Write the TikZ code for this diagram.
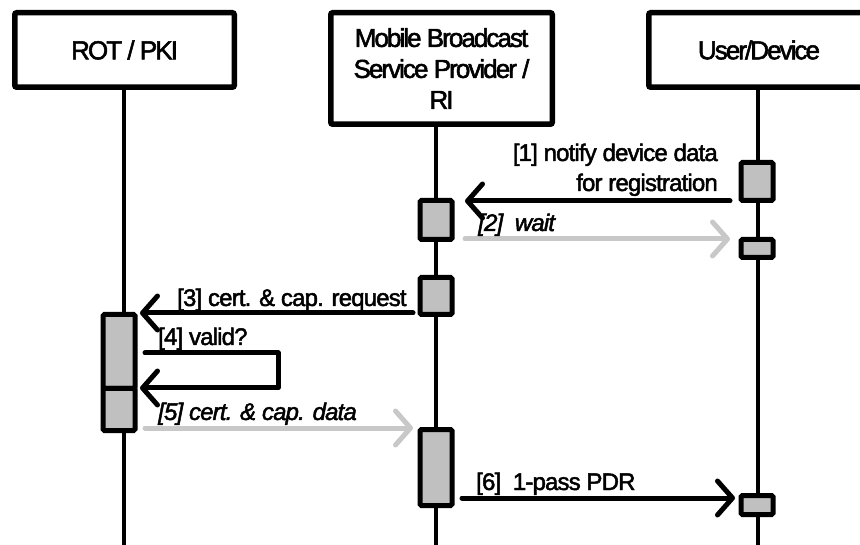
\documentclass[tikz,border=0pt]{standalone}
\usepackage{fontspec}
\setmainfont{Liberation Sans}
\newfontfamily\hdrfont[LetterSpace=-7.5,FakeBold=2]{Liberation Sans}
\newfontfamily\lblfont[LetterSpace=-3.5,FakeBold=2]{Liberation Sans}
\usetikzlibrary{arrows.meta}
\definecolor{actgray}{HTML}{C0C0C0}
\definecolor{msggray}{HTML}{C8C8C8}
\begin{document}
\begin{tikzpicture}[x=1pt,y=-1pt,
  header/.style={draw,line width=5.5pt,rounded corners=2pt,fill=white,inner sep=0pt,align=center,font=\hdrfont\fontsize{26}{31}\selectfont},
  life/.style={line width=4.5pt},
  act/.style={draw,line width=5pt,fill=actgray,rounded corners=1.5pt,minimum width=32pt,inner sep=0pt},
  msg/.style={line width=5pt,line cap=round,line join=round,-{Straight Barb[length=15pt,width=34pt,line cap=round,line join=round]}},
  reply/.style={msg,draw=msggray},
  lbl/.style={anchor=base west,inner sep=0pt,font=\lblfont\fontsize{24}{30}\selectfont},
]
\useasboundingbox (0,0) rectangle (860,545);
% headers
\node[header,minimum width=219.5pt,minimum height=74.5pt] (rot) at (124.5,50) {ROT / PKI};
\node[header,minimum width=221.5pt,minimum height=111.5pt] (mbsp) at (441.5,68.5) {Mobile Broadcast\\Service Provider /\\RI};
\node[header,minimum width=220.5pt,minimum height=74.5pt] (ud) at (759,50) {User/Device};
% lifelines
\coordinate (rtop) at (124,90);   \coordinate (rbot) at (124,545);
\coordinate (mtop) at (436,127);  \coordinate (mbot) at (436,545);
\coordinate (utop) at (758,90);   \coordinate (ubot) at (758,545);
\draw[life] (rtop) -- (rbot);
\draw[life] (mtop) -- (mbot);
\draw[life] (utop) -- (ubot);
% activations
\node[act,minimum height=38pt] (u1) at (757,181.5) {};
\node[act,minimum height=18pt] (u2) at (757,248.5) {};
\node[act,minimum height=39pt] (m1) at (436,220) {};
\node[act,minimum height=37pt] (m2) at (436,296) {};
\node[act,minimum height=74pt] (r1) at (119,351.5) {};
\node[act,minimum height=42pt] (r2) at (119,409.5) {};
\node[act,minimum height=76pt] (m3) at (436,467.5) {};
\node[act,minimum height=19pt] (u3) at (757,505) {};
% message end points
\coordinate (a1s) at (730,201); \coordinate (a1e) at (465,201);
\coordinate (a2s) at (465,239); \coordinate (a2e) at (730,239);
\coordinate (a3s) at (413,313); \coordinate (a3e) at (140,313);
\coordinate (a4s) at (145,353); \coordinate (a4c) at (278,388); \coordinate (a4e) at (140,388);
\coordinate (a5s) at (145,428); \coordinate (a5e) at (413,428);
\coordinate (a6s) at (462,498); \coordinate (a6e) at (735,498);
% messages
\draw[msg] (a1s) -- (a1e);
\draw[reply] (a2s) -- (a2e);
\draw[msg] (a3s) -- (a3e);
\draw[msg] (a4s) -| (a4c) -- (a4e);
\draw[reply] (a5s) -- (a5e);
\draw[msg] (a6s) -- (a6e);
% labels
\node[lbl,anchor=base east] (l1a) at (718,161) {[1] notify device data};
\node[lbl,anchor=base east] (l1b) at (718,191) {for registration};
\node[lbl] (l2) at (478,231) {\itshape [2]\ \ wait};
\node[lbl] (l3) at (177,306) {[3] cert. \& cap. request};
\node[lbl] (l4) at (158,345) {[4] valid?};
\node[lbl] (l5) at (158,420) {\itshape [5] cert. \& cap. data};
\node[lbl] (l6) at (476,490) {[6]\ \ 1-pass PDR};
\end{tikzpicture}
\end{document}
